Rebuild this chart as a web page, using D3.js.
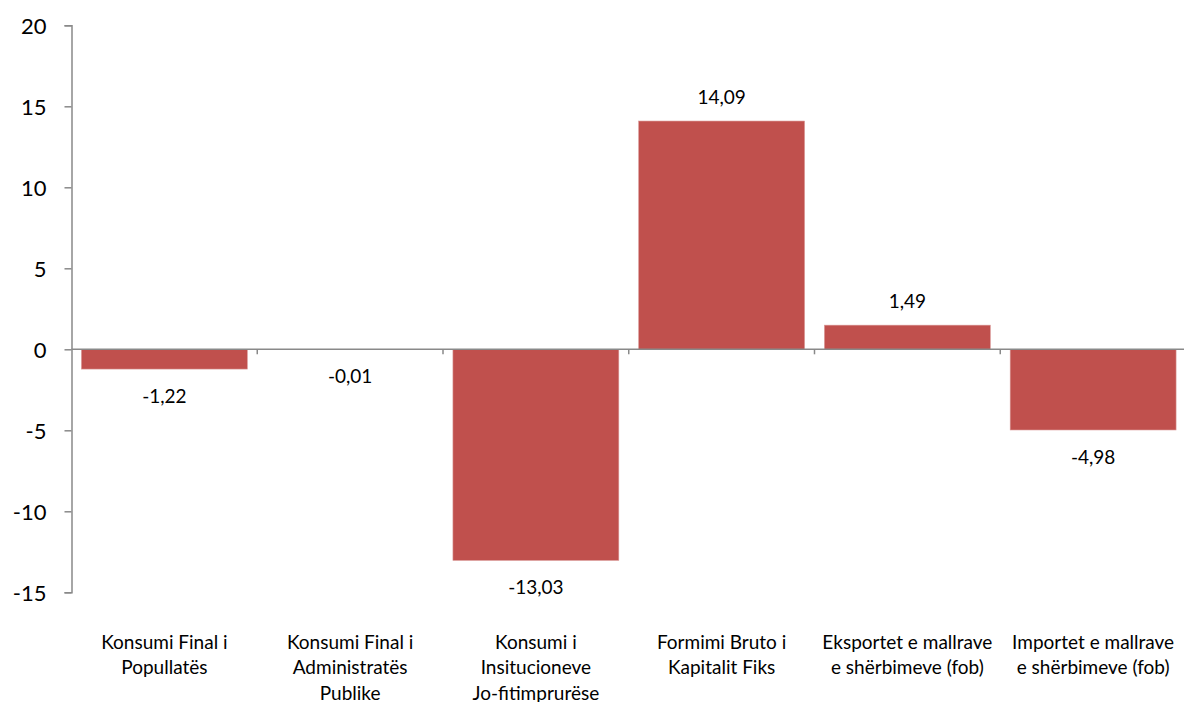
<!DOCTYPE html>
<html><head><meta charset="utf-8">
<script src="https://cdn.jsdelivr.net/npm/d3@7/dist/d3.min.js"></script>
<style>body{margin:0;background:#fff}svg{display:block}text{font-family:Lato,"Open Sans",sans-serif;fill:#000}</style>
</head><body><svg id="c" width="1184" height="702"></svg>
<script>
const categories = [
  ["Konsumi Final i","Popullatës"],
  ["Konsumi Final i","Administratës","Publike"],
  ["Konsumi i","Insitucioneve","Jo-fitimprurëse"],
  ["Formimi Bruto i","Kapitalit Fiks"],
  ["Eksportet e mallrave","e shërbimeve (fob)"],
  ["Importet e mallrave","e shërbimeve (fob)"]
];
const values = [-1.22, -0.01, -13.03, 14.09, 1.49, -4.98];
const valueLabels = ["-1,22","-0,01","-13,03","14,09","1,49","-4,98"];
const yTicks = [-15,-10,-5,0,5,10,15,20];

(function(){
const svg = d3.select("#c");
const mLeft = 71.5, mRight = 1186, mTop = 25.3, mBottom = 592.3;
const idx = d3.range(categories.length);
const x = d3.scaleBand().domain(idx).range([mLeft, mRight]).paddingInner(0.107).paddingOuter(0.0535);
const y = d3.scaleLinear().domain([-15, 20]).range([mBottom, mTop]);
const axisColor = "#898989";

// bars
svg.append("g").selectAll("rect").data(values).join("rect")
  .attr("x", (d,i) => x(i))
  .attr("width", x.bandwidth())
  .attr("y", d => y(Math.max(0,d)))
  .attr("height", d => Math.abs(y(d) - y(0)))
  .attr("fill", "#C0504D")
  .attr("stroke", "#D99694").attr("stroke-width", 0.6);

// y axis
const ya = svg.append("g").attr("transform", `translate(${mLeft},0)`)
  .call(d3.axisLeft(y).tickValues(yTicks).tickSize(7).tickPadding(18).tickFormat(d => String(d)));
ya.select(".domain").attr("stroke", axisColor).attr("stroke-width", 1.5);
ya.selectAll(".tick line").attr("stroke", axisColor).attr("stroke-width", 1.5);
ya.attr("font-family", null).attr("font-size", null);
ya.selectAll(".tick text").style("font-size", "22px").attr("dy", "0.35em").style("fill", "#000");

// zero line
svg.append("line").attr("x1", mLeft).attr("x2", mRight).attr("y1", y(0)).attr("y2", y(0))
  .attr("stroke", axisColor).attr("stroke-width", 1.5);
// category boundary ticks
const step = x.step();
svg.append("g").selectAll("line").data(d3.range(1, categories.length)).join("line")
  .attr("x1", d => mLeft + d*step).attr("x2", d => mLeft + d*step)
  .attr("y1", y(0)).attr("y2", y(0) + 5)
  .attr("stroke", axisColor).attr("stroke-width", 1.5);

// data labels
svg.append("g").selectAll("text").data(values).join("text")
  .attr("x", (d,i) => x(i) + x.bandwidth()/2)
  .attr("y", d => d >= 0 ? y(d) - 24 : y(d) + 27)
  .attr("dy", "0.35em")
  .attr("text-anchor", "middle")
  .style("font-size", "19px")
  .text((d,i) => valueLabels[i]);

// category labels
const cg = svg.append("g");
categories.forEach((lines, i) => {
  const t = cg.append("text").attr("text-anchor", "middle").style("font-size", "19px")
    .attr("x", x(i) + x.bandwidth()/2);
  lines.forEach((ln, j) => {
    t.append("tspan").attr("x", x(i) + x.bandwidth()/2).attr("y", 642 + j*25.5).attr("dy", "0.35em").text(ln);
  });
});
})();
</script></body></html>
